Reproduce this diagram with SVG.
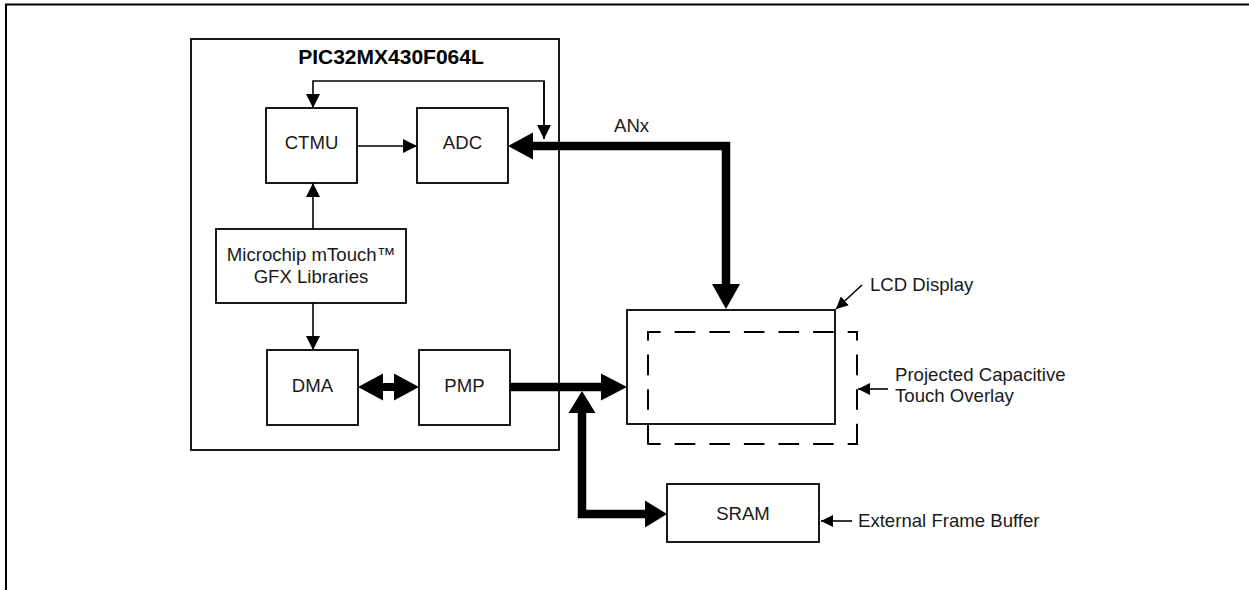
<svg xmlns="http://www.w3.org/2000/svg" width="1249" height="590" viewBox="0 0 1249 590">
<style>
  .box{fill:#fff;stroke:#000;stroke-width:1.8}
  .lbl{font-family:"Liberation Sans",Arial,sans-serif;font-size:18.6px;fill:#1a1a1a}
  .mid{text-anchor:middle}
  .title{font-family:"Liberation Sans",Arial,sans-serif;font-size:21px;font-weight:bold;text-anchor:middle;fill:#000}
  .thin{fill:none;stroke:#000;stroke-width:1.6}
  .thick{fill:none;stroke:#000;stroke-width:8.5;stroke-linejoin:miter}
  .head{fill:#000}
  .dh{fill:none;stroke:#000;stroke-width:2;stroke-dasharray:20.6 14;stroke-dashoffset:7.9}
  .dv{fill:none;stroke:#000;stroke-width:2;stroke-dasharray:20.6 14;stroke-dashoffset:11}
</style>
<defs>
  <marker id="ah" markerUnits="userSpaceOnUse" markerWidth="14" markerHeight="14" refX="14" refY="7" orient="auto">
    <path d="M0,0 L14,7 L0,14 Z" fill="#000"/>
  </marker>
  <marker id="ahs" markerUnits="userSpaceOnUse" markerWidth="12" markerHeight="12" refX="12" refY="6" orient="auto">
    <path d="M0,0 L12,6 L0,12 Z" fill="#000"/>
  </marker>
</defs>

<path d="M6,590 V4.5 H1249" fill="none" stroke="#000" stroke-width="2"/>

<g id="chip">
  <rect class="box" x="191" y="39" width="368" height="411"/>
  <text class="title" x="391" y="64">PIC32MX430F064L</text>
</g>
<g id="ctmu">
  <rect class="box" x="266" y="108" width="91" height="75"/>
  <text class="lbl mid" x="311.5" y="149">CTMU</text>
</g>
<g id="adc">
  <rect class="box" x="417" y="108" width="91" height="75"/>
  <text class="lbl mid" x="462.5" y="149">ADC</text>
</g>
<g id="gfx">
  <rect class="box" x="216" y="229" width="190" height="74"/>
  <text class="lbl mid" x="311" y="261">Microchip mTouch™</text>
  <text class="lbl mid" x="311" y="283">GFX Libraries</text>
</g>
<g id="dma">
  <rect class="box" x="267" y="350" width="91" height="75"/>
  <text class="lbl mid" x="312.5" y="392">DMA</text>
</g>
<g id="pmp">
  <rect class="box" x="419" y="350" width="91" height="75"/>
  <text class="lbl mid" x="464.5" y="392">PMP</text>
</g>
<g id="lcd">
  <rect class="box" x="627" y="310" width="208" height="114"/>
  <path class="dh" d="M648,332 H858"/>
  <path class="dh" d="M648,444 H858"/>
  <path class="dv" d="M648,331 V445"/>
  <path class="dv" d="M857,331 V445"/>
  <text class="lbl" x="870" y="291">LCD Display</text>
  <text class="lbl" x="895" y="381">Projected Capacitive</text>
  <text class="lbl" x="895" y="402">Touch Overlay</text>
</g>
<g id="sram">
  <rect class="box" x="667" y="484" width="152" height="58"/>
  <text class="lbl mid" x="743" y="520">SRAM</text>
  <text class="lbl" x="858" y="527">External Frame Buffer</text>
</g>

<g id="connectors">
  <path class="thin" d="M357,146 H417" marker-end="url(#ah)"/>
  <path class="thin" d="M544,139 V81 H313 V108" marker-end="url(#ah)"/>
  <path class="thin" d="M544,81 V139" marker-end="url(#ah)"/>
  <path class="thin" d="M313,229 V183" marker-end="url(#ah)"/>
  <path class="thin" d="M313,303 V350" marker-end="url(#ah)"/>
  <path class="thin" d="M862,285 L836,309" marker-end="url(#ahs)"/>
  <path class="thin" d="M888,389 H858" marker-end="url(#ahs)"/>
  <path class="thin" d="M852,521 H821" marker-end="url(#ahs)"/>

  <text class="lbl" x="614" y="132">ANx</text>
  <path class="thick" d="M532,146 H726 V285"/>
  <polygon class="head" points="508,146 533,132.5 533,159.5"/>
  <polygon class="head" points="726,309 712,284 740,284"/>

  <path class="thick" d="M510,387 H602"/>
  <polygon class="head" points="627,387 601,373.5 601,400.5"/>

  <path class="thick" d="M582,412 V514 H646"/>
  <polygon class="head" points="582,391 568.5,413 595.5,413"/>
  <polygon class="head" points="667,514 645,500.5 645,527.5"/>

  <polygon class="head" points="358,387 383,373.5 383,383 394,383 394,373.5 419,387 394,400.5 394,391 383,391 383,400.5"/>
</g>
</svg>
